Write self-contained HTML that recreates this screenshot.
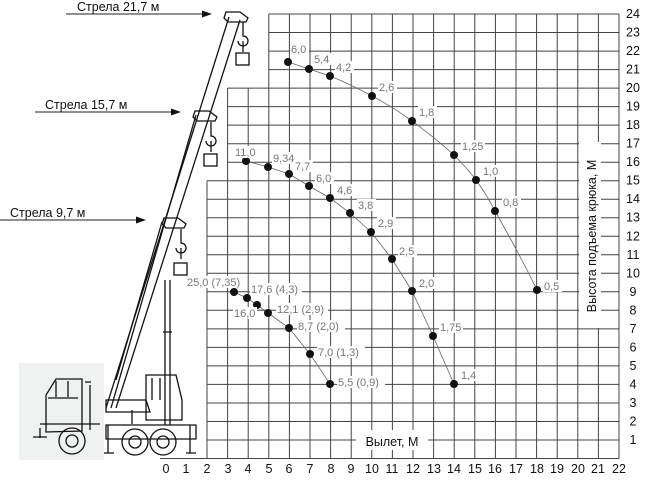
<!DOCTYPE html>
<html><head><meta charset="utf-8"><style>
html,body{margin:0;padding:0;background:#fff;}
svg{display:block;font-family:"Liberation Sans",sans-serif;}
.g{stroke:#444;stroke-width:1;fill:none;}
.lb{fill:#777;font-size:11px;}
.ax{fill:#111;font-size:12.5px;}
.k{stroke:#111;fill:none;stroke-width:1.3;}
</style></head><body>
<svg width="664" height="480" viewBox="0 0 664 480">
<rect x="19" y="363" width="85" height="97" fill="#f0f2f1"/>
<path class="g" d="M160 458.5H619M207 440H619M207 421.5H619M207 403H619M207 384.4H619M207 365.9H619M207 347.4H619M207 328.9H619M207 310.3H619M207 291.8H619M207 273.3H619M207 254.8H619M207 236.3H619M207 217.7H619M207 199.2H619M207 180.7H619M227.6 162.2H619M227.6 143.7H619M227.6 125.1H619M227.6 106.6H619M227.6 88.1H619M268.8 69.6H619M268.8 51.1H619M268.8 32.5H619M268.8 14H619"/>
<path class="g" d="M207 180.7V458.5M227.6 88.1V458.5M248.2 88.1V458.5M268.8 14V458.5M289.4 14V458.5M310 14V458.5M330.6 14V458.5M351.2 14V458.5M371.8 14V458.5M392.4 14V458.5M413 14V458.5M433.6 14V458.5M454.2 14V458.5M474.8 14V458.5M495.4 14V458.5M516 14V458.5M536.6 14V458.5M557.2 14V458.5M577.8 14V458.5M598.4 14V458.5M619 14V458.5"/>
<rect x="579" y="142" width="22" height="186" fill="#fff"/>
<rect x="356" y="430" width="72" height="20" fill="#fff"/>
<text class="ax" x="0" y="0" transform="translate(596,236) rotate(-90)" text-anchor="middle" font-size="15">Высота подъема крюка, М</text>
<text class="ax" x="392" y="446" text-anchor="middle" font-size="15">Вылет, М</text>
<g class="ax" text-anchor="middle">
<text x="633" y="444">1</text><text x="633" y="425.5">2</text><text x="633" y="407">3</text><text x="633" y="388.4">4</text><text x="633" y="369.9">5</text><text x="633" y="351.4">6</text><text x="633" y="332.9">7</text><text x="633" y="314.3">8</text><text x="633" y="295.8">9</text><text x="633" y="277.3">10</text><text x="633" y="258.8">11</text><text x="633" y="240.3">12</text><text x="633" y="221.7">13</text><text x="633" y="203.2">14</text><text x="633" y="184.7">15</text><text x="633" y="166.2">16</text><text x="633" y="147.7">17</text><text x="633" y="129.1">18</text><text x="633" y="110.6">19</text><text x="633" y="92.1">20</text><text x="633" y="73.6">21</text><text x="633" y="55.1">22</text><text x="633" y="36.5">23</text><text x="633" y="18">24</text>
</g>
<g class="ax" text-anchor="middle">
<text x="166" y="473">0</text><text x="186" y="473">1</text><text x="207" y="473">2</text><text x="228" y="473">3</text><text x="248" y="473">4</text><text x="269" y="473">5</text><text x="289" y="473">6</text><text x="310" y="473">7</text><text x="331" y="473">8</text><text x="351" y="473">9</text><text x="372" y="473">10</text><text x="392" y="473">11</text><text x="413" y="473">12</text><text x="434" y="473">13</text><text x="454" y="473">14</text><text x="475" y="473">15</text><text x="495" y="473">16</text><text x="516" y="473">17</text><text x="537" y="473">18</text><text x="557" y="473">19</text><text x="578" y="473">20</text><text x="598" y="473">21</text><text x="619" y="473">22</text>
</g>
<g stroke="#666" stroke-width="0.8" fill="none">
<path d="M288 62L309 69L330 76Q352 85 372 96Q393 107 412 121Q434 137 454 155Q466 167 476 180Q487 195 495 211Q520 255 537 290"/>
<path d="M246 161L268 167L289 174L309 186L330 198L350 213L371 232L392 259L412 291L433 336L454 384"/>
<path d="M234 292L247 298L257 305L268 313L289 328L310 354L330 384"/>
</g>
<g fill="#111">
<circle cx="288" cy="62" r="4"/><circle cx="309" cy="69" r="4"/><circle cx="330" cy="76" r="4"/><circle cx="372" cy="96" r="4"/><circle cx="412" cy="121" r="4"/><circle cx="454" cy="155" r="4"/><circle cx="476" cy="180" r="4"/><circle cx="495" cy="211" r="4"/><circle cx="537" cy="290" r="4"/>
<circle cx="246" cy="161" r="4"/><circle cx="268" cy="167" r="4"/><circle cx="289" cy="174" r="4"/><circle cx="309" cy="186" r="4"/><circle cx="330" cy="198" r="4"/><circle cx="350" cy="213" r="4"/><circle cx="371" cy="232" r="4"/><circle cx="392" cy="259" r="4"/><circle cx="412" cy="291" r="4"/><circle cx="433" cy="336" r="4"/><circle cx="454" cy="384" r="4"/>
<circle cx="234" cy="292" r="4"/><circle cx="247" cy="298" r="4"/><circle cx="257" cy="305" r="4"/><circle cx="268" cy="313" r="4"/><circle cx="289" cy="328" r="4"/><circle cx="310" cy="354" r="4"/><circle cx="330" cy="384" r="4"/>
</g>
<g class="lb">
<rect x="290" y="43" width="19" height="12" fill="#fff"/><text x="291" y="53">6,0</text>
<rect x="313" y="53" width="19" height="12" fill="#fff"/><text x="314" y="63">5,4</text>
<rect x="335" y="61" width="19" height="12" fill="#fff"/><text x="336" y="71">4,2</text>
<rect x="378" y="81" width="19" height="12" fill="#fff"/><text x="379" y="91">2,6</text>
<rect x="418" y="106" width="19" height="12" fill="#fff"/><text x="419" y="116">1,8</text>
<rect x="461" y="140" width="24" height="12" fill="#fff"/><text x="462" y="150">1,25</text>
<rect x="482" y="165" width="19" height="12" fill="#fff"/><text x="483" y="175">1,0</text>
<rect x="502" y="196" width="19" height="12" fill="#fff"/><text x="503" y="206">0,8</text>
<rect x="543" y="280" width="19" height="12" fill="#fff"/><text x="544" y="290">0,5</text>
<rect x="234" y="146" width="24" height="12" fill="#fff"/><text x="235" y="156">11,0</text>
<rect x="272" y="152" width="27" height="12" fill="#fff"/><text x="273" y="162">9,34</text>
<rect x="294" y="160" width="19" height="12" fill="#fff"/><text x="295" y="170">7,7</text>
<rect x="315" y="172" width="19" height="12" fill="#fff"/><text x="316" y="182">6,0</text>
<rect x="336" y="184" width="19" height="12" fill="#fff"/><text x="337" y="194">4,6</text>
<rect x="357" y="199" width="19" height="12" fill="#fff"/><text x="358" y="209">3,8</text>
<rect x="377" y="217" width="19" height="12" fill="#fff"/><text x="378" y="227">2,9</text>
<rect x="398" y="245" width="19" height="12" fill="#fff"/><text x="399" y="255">2,5</text>
<rect x="418" y="277" width="19" height="12" fill="#fff"/><text x="419" y="287">2,0</text>
<rect x="439" y="321" width="24" height="12" fill="#fff"/><text x="440" y="331">1,75</text>
<rect x="460" y="369" width="19" height="12" fill="#fff"/><text x="461" y="379">1,4</text>
<rect x="186" y="276" width="47" height="12" fill="#fff"/><text x="187" y="286">25,0 (7,35)</text>
<rect x="250" y="283" width="52" height="12" fill="#fff"/><text x="251" y="293">17,6 (4,3)</text>
<rect x="233" y="307" width="24" height="12" fill="#fff"/><text x="234" y="317">16,0</text>
<rect x="276" y="303" width="52" height="12" fill="#fff"/><text x="277" y="313">12,1 (2,9)</text>
<rect x="297" y="320" width="48" height="12" fill="#fff"/><text x="298" y="330">8,7 (2,0)</text>
<rect x="317" y="346" width="48" height="12" fill="#fff"/><text x="318" y="356">7,0 (1,3)</text>
<rect x="337" y="376" width="48" height="12" fill="#fff"/><text x="338" y="386">5,5 (0,9)</text>
</g>
<g stroke="#222" stroke-width="1">
<line x1="66" y1="14" x2="205" y2="14"/><line x1="35" y1="112" x2="173" y2="112"/><line x1="0" y1="220" x2="138" y2="220"/>
</g>
<g fill="#111">
<path d="M212 14L202 10.5L202 17.5Z"/><path d="M181 112L171 108.5L171 115.5Z"/><path d="M146 220L136 216.5L136 223.5Z"/>
</g>
<g class="ax" font-size="13">
<text x="77" y="11">Стрела 21,7 м</text><text x="45" y="109">Стрела 15,7 м</text><text x="10" y="217">Стрела 9,7 м</text>
</g>
<g class="k">
<path d="M106 408L229 17M116 408L240 20"/>
<path d="M111 408L196 115M162 222L116 380"/>
<path d="M226 12h14l8 6l-2 4h-18l-4-4z"/>
<path d="M195 111h14l8 6l-2 4h-18l-4-4z"/>
<path d="M164 218h14l8 6l-2 4h-18l-4-4z"/>
<path d="M243 22v14a5 5 0 1 1-5 5M243 41v11"/><rect x="236" y="53" width="13" height="12"/>
<path d="M211 122v14a5 5 0 1 1-5 5M211 141v11"/><rect x="204" y="154" width="13" height="12"/>
<path d="M181 229v14a5 5 0 1 1-5 5M181 248v11"/><rect x="174" y="263" width="13" height="12"/>
<path d="M165 280V425M170 280V425M163 332h9"/>
<path d="M146 420V375h30l6 25v20z"/><path d="M152 378v22M160 378v22"/>
<path d="M106 400h40l4 12h-44zM132 410v14"/>
<path d="M106 425h90v14h-90z"/>
<path d="M46 432V395l10-16h26v52zM48 398h30M56 381v16M68 381v16M82 385v45M90 385v45M85 382h6"/>
<path d="M40 424h60M33 437h14M40 428v10"/>
<circle cx="72" cy="441" r="13"/><circle cx="72" cy="441" r="6"/>
<circle cx="135" cy="442" r="13"/><circle cx="135" cy="442" r="6"/>
<circle cx="163" cy="442" r="13"/><circle cx="163" cy="442" r="6"/>
<path d="M108 425v28M190 425v28M104 453h10M186 453h10"/>
</g>
</svg>
</body></html>
